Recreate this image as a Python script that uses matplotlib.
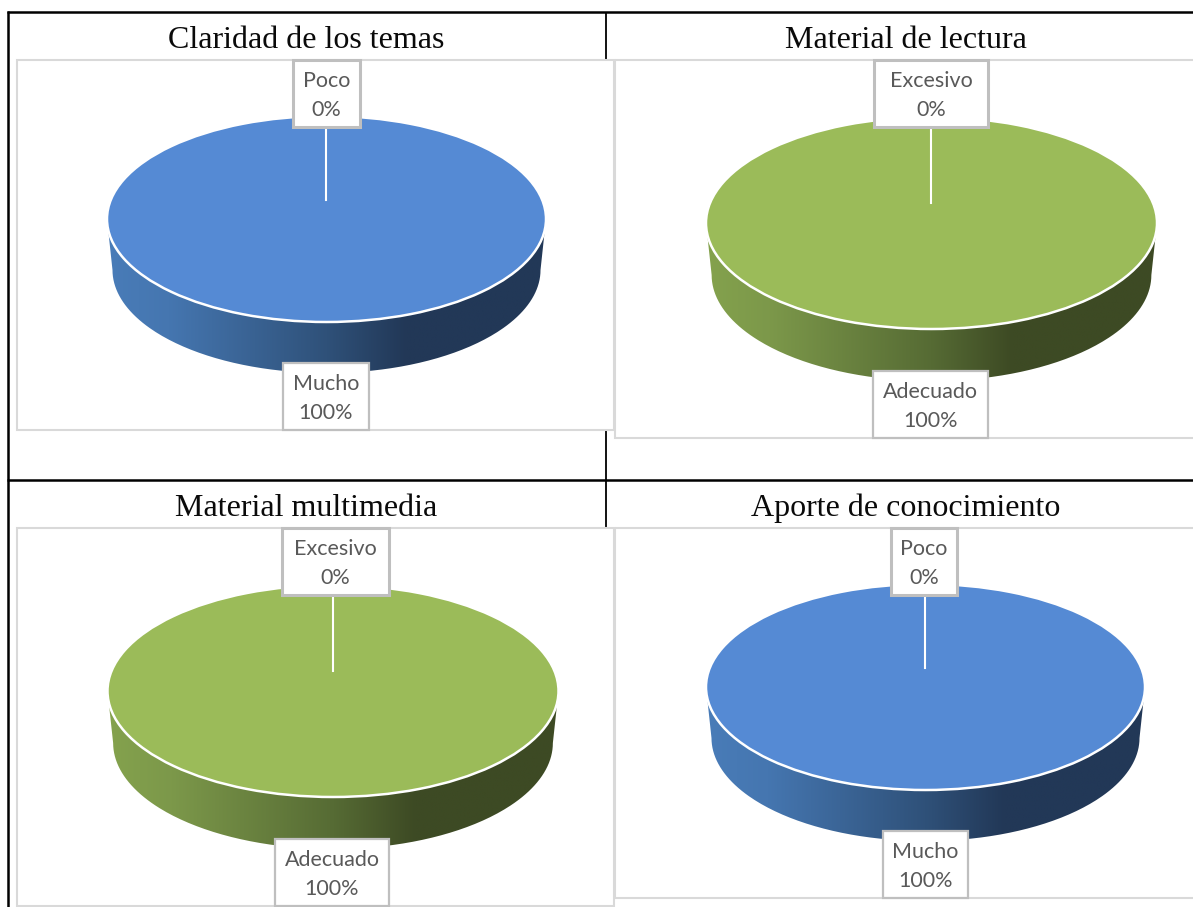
import numpy as np
import matplotlib
matplotlib.use("Agg")
import matplotlib.pyplot as plt
from matplotlib.colors import LinearSegmentedColormap
from matplotlib.patches import Rectangle, PathPatch
from matplotlib.path import Path

W, H = 1193, 907

# ---- data ----
titles = ["Claridad de los temas", "Material de lectura",
          "Material multimedia", "Aporte de conocimiento"]
small_labels = ["Poco", "Excesivo", "Excesivo", "Poco"]
big_labels = ["Mucho", "Adecuado", "Adecuado", "Mucho"]
small_values = [0, 0, 0, 0]
big_values = [100, 100, 100, 100]

# ---- layout (pixels) ----
frames = [(17, 60, 614, 430), (615, 60, 1200, 438),
          (17, 528, 614, 906), (615, 528, 1200, 898)]
ellipses = [(326.5, 219, 219.5, 103, 51), (931.5, 223, 225.5, 106, 52),
            (333, 691, 225.5, 106, 52), (925.5, 687, 219.5, 103, 51)]
title_xy = [(306, 40), (905.5, 40), (306.5, 508), (905.5, 508)]
top_boxes = [(293, 60, 360, 127), (874, 60, 988, 127),
             (282, 528, 389, 595), (891, 528, 957, 595)]
bot_boxes = [(283, 363, 369, 430), (873, 371, 988, 438),
             (275, 839, 389, 906), (883, 831, 968, 898)]
spoke_ends = [200, 203, 671, 668]
spoke_x = [326, 931, 333, 925]

BLUE = dict(top="#558ad4", stops=["#497cb8", "#4576b0", "#2f5179", "#223857", "#223857"])
GREEN = dict(top="#9bbb59", stops=["#84a24d", "#7c984a", "#566b34", "#3d4a24", "#3d4a24"])
palettes = [BLUE, GREEN, GREEN, BLUE]
grad_pos = [0, 0.14, 0.5, 0.68, 1]

fig = plt.figure(figsize=(W / 100, H / 100), dpi=100, facecolor="white")


def place(x0, y0, x1, y1, **kw):
    return fig.add_axes([x0 / W, 1 - y1 / H, (x1 - x0) / W, (y1 - y0) / H], **kw)


for i in range(4):
    x0, y0, x1, y1 = frames[i]
    cx, cy, rx, ry, depth = ellipses[i]
    pal = palettes[i]
    ax = place(x0, y0, x1, y1)
    ax.set_xlim((x0 - cx) / rx, (x1 - cx) / rx)
    ax.set_ylim((cy - y1) / ry, (cy - y0) / ry)
    ax.axis("off")

    # extruded side of the pie
    d = depth / ry
    t = np.linspace(np.pi, 2 * np.pi, 200)
    sx = np.r_[-1.0, 0.975 * np.cos(t), 1.0]
    sy = np.r_[0.0, -d + np.sin(t), 0.0]
    clip = PathPatch(Path(np.c_[sx, sy]), fc="none", ec="none",
                     transform=ax.transData)
    ax.add_patch(clip)
    cmap = LinearSegmentedColormap.from_list(
        "side", list(zip(grad_pos, pal["stops"])))
    im = ax.imshow(np.linspace(0, 1, 256)[None, :], cmap=cmap, aspect="auto",
                   extent=(-1, 1, -d - 1, 0), zorder=1, interpolation="bilinear")
    im.set_clip_path(clip)

    # top face, drawn by the pie itself
    wedges, _ = ax.pie([small_values[i], big_values[i]],
                       colors=[pal["top"], pal["top"]], startangle=90,
                       counterclock=False, radius=1,
                       wedgeprops=dict(edgecolor="white", linewidth=1.8,
                                       zorder=2))
    wedges[0].set_visible(False)
    ax.set_aspect("auto")
    ax.set_xlim((x0 - cx) / rx, (x1 - cx) / rx)
    ax.set_ylim((cy - y1) / ry, (cy - y0) / ry)

# overlay in pixel coordinates: table rules, frames, callouts, titles
ov = fig.add_axes([0, 0, 1, 1], zorder=10)
ov.set_xlim(0, W)
ov.set_ylim(H, 0)
ov.axis("off")
ov.patch.set_alpha(0)

BLACK_LW = 1.8
ov.plot([8, 8], [11, H], color="black", lw=BLACK_LW, solid_capstyle="butt")
ov.plot([7, W], [12, 12], color="black", lw=BLACK_LW, solid_capstyle="butt")
ov.plot([7, W], [480, 480], color="black", lw=BLACK_LW, solid_capstyle="butt")
ov.plot([606, 606], [12, 60], color="black", lw=1.3, solid_capstyle="butt")
ov.plot([606, 606], [431, 528], color="black", lw=1.3, solid_capstyle="butt")

for x0, y0, x1, y1 in frames:
    ov.add_patch(Rectangle((x0, y0), x1 - x0, y1 - y0, fc="none",
                           ec="#d9d9d9", lw=1.5, zorder=2, clip_on=True))

for i in range(4):
    ov.text(title_xy[i][0], title_xy[i][1], titles[i], family="Liberation Serif",
            fontsize=23.0, color="#0a0a0a", ha="center", va="center", zorder=6)
    bx0, by0, bx1, by1 = top_boxes[i]
    ov.plot([spoke_x[i]] * 2, [by1, spoke_ends[i]], color="white", lw=1.5, zorder=3)
    for box, name, val, lw in ((top_boxes[i], small_labels[i], small_values[i], 2.2),
                               (bot_boxes[i], big_labels[i], big_values[i], 1.6)):
        bx0, by0, bx1, by1 = box
        ov.add_patch(Rectangle((bx0, by0), bx1 - bx0, by1 - by0, fc="white",
                               ec="#bfbfbf", lw=lw, zorder=4))
        mx = (bx0 + bx1) / 2
        ov.text(mx, by0 + 21, name, family="Lato", fontsize=15.5, color="#595959",
                ha="center", va="center", zorder=5)
        ov.text(mx, by0 + 50, f"{val}%", family="Lato", fontsize=15.5, color="#595959",
                ha="center", va="center", zorder=5)

fig.savefig("out.png", dpi=100)
